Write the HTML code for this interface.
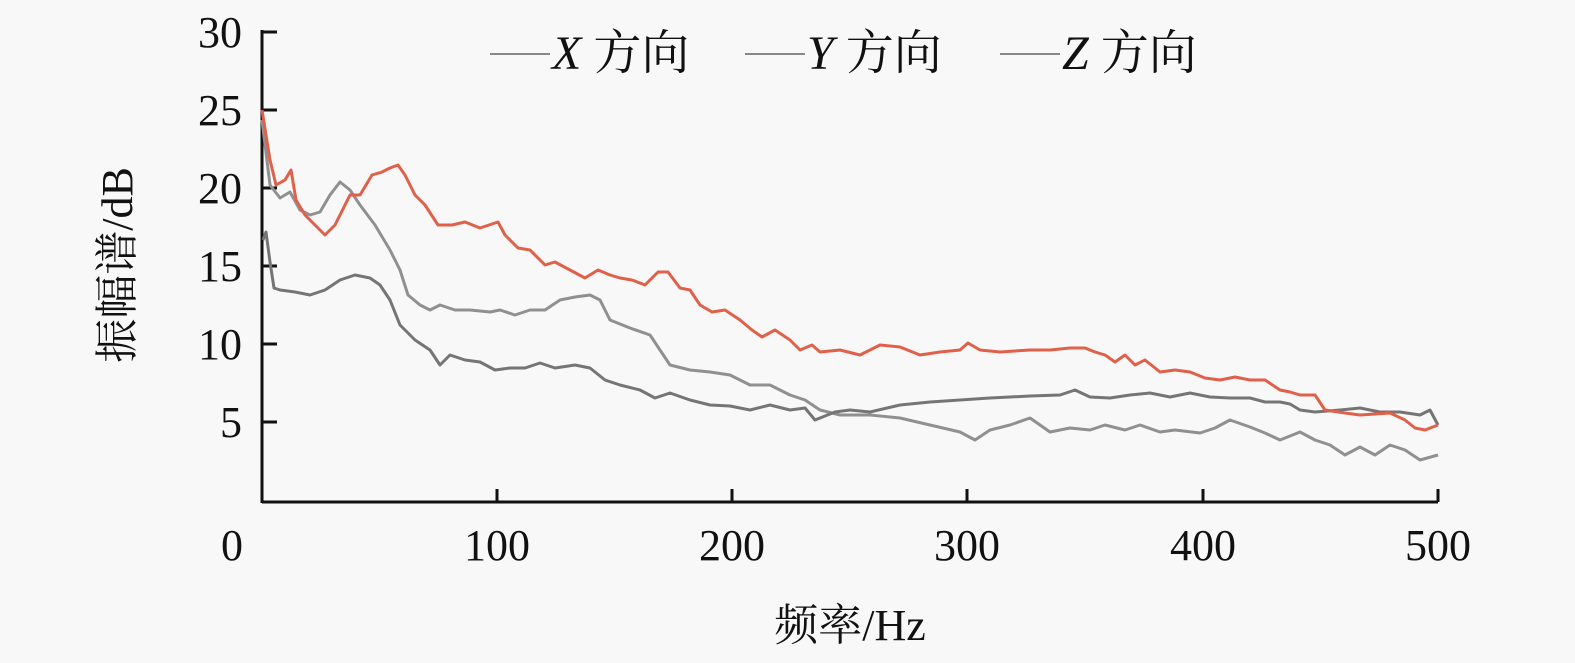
<!DOCTYPE html>
<html><head><meta charset="utf-8"><style>
html,body{margin:0;padding:0;background:#f8f8f8;}
svg{display:block;}
text{font-family:"Liberation Serif","Noto Serif CJK SC",serif;fill:#111;}
</style></head><body>
<svg width="1575" height="663" viewBox="0 0 1575 663">
<rect width="1575" height="663" fill="#f8f8f8"/>
<g stroke="#111" stroke-width="3" fill="none">
<line x1="262" y1="30" x2="262" y2="503"/>
<line x1="262" y1="502" x2="1438" y2="502"/>
<line x1="262" y1="32" x2="277" y2="32"/><line x1="262" y1="110" x2="277" y2="110"/>
<line x1="262" y1="188" x2="277" y2="188"/><line x1="262" y1="266" x2="277" y2="266"/>
<line x1="262" y1="344" x2="277" y2="344"/><line x1="262" y1="422" x2="277" y2="422"/>
<line x1="497" y1="489" x2="497" y2="502"/><line x1="732" y1="489" x2="732" y2="502"/>
<line x1="967" y1="489" x2="967" y2="502"/><line x1="1203" y1="489" x2="1203" y2="502"/>
<line x1="1438" y1="489" x2="1438" y2="502"/>
</g>
<g font-size="44" text-anchor="end">
<text x="242" y="47">30</text><text x="242" y="125">25</text><text x="242" y="203">20</text>
<text x="242" y="281">15</text><text x="242" y="359">10</text><text x="242" y="437">5</text>
</g>
<g font-size="44" text-anchor="middle">
<text x="232" y="560">0</text><text x="497" y="560">100</text><text x="732" y="560">200</text>
<text x="967" y="560">300</text><text x="1203" y="560">400</text><text x="1438" y="560">500</text>
<text x="850" y="640">频率/Hz</text>
</g>
<text font-size="44" text-anchor="middle" transform="translate(132,265) rotate(-90)">振幅谱/dB</text>
<g font-size="48">
<line x1="490" y1="54" x2="550" y2="54" stroke="#888" stroke-width="2"/>
<text x="552" y="69"><tspan font-style="italic">X</tspan> 方向</text>
<line x1="745" y1="54" x2="805" y2="54" stroke="#888" stroke-width="2"/>
<text x="807" y="69"><tspan font-style="italic">Y</tspan> 方向</text>
<line x1="1000" y1="54" x2="1060" y2="54" stroke="#888" stroke-width="2"/>
<text x="1062" y="69"><tspan font-style="italic">Z</tspan> 方向</text>
</g>
<g fill="none" stroke-width="3" stroke-linejoin="round">
<polyline stroke="#909090" points="262,120 270,185 280,198 290,192 300,210 310,215 320,212 330,195 340,182 350,190 360,205 375,225 390,250 400,270 408,295 420,305 430,310 440,305 455,310 470,310 490,312 500,310 515,315 530,310 545,310 560,300 575,297 590,295 600,300 610,320 630,328 650,335 670,365 690,370 710,372 730,375 750,385 770,385 790,395 805,400 820,410 840,415 870,415 900,418 930,425 960,432 975,440 990,430 1010,425 1030,418 1050,432 1070,428 1090,430 1105,425 1125,430 1140,425 1160,432 1175,430 1200,433 1215,428 1230,420 1250,427 1265,433 1280,440 1300,432 1315,440 1330,445 1345,455 1360,447 1375,455 1390,445 1405,450 1420,460 1438,455"/>
<polyline stroke="#757575" points="263,240 266,232 270,262 274,288 280,290 295,292 310,295 325,290 340,280 355,275 370,278 380,285 390,300 400,325 415,340 430,350 440,365 450,355 465,360 480,362 495,370 510,368 525,368 540,363 555,368 575,365 590,368 605,380 620,385 640,390 655,398 670,393 690,400 710,405 730,406 750,410 770,405 790,410 805,408 815,420 835,412 850,410 870,412 900,405 930,402 960,400 990,398 1010,397 1030,396 1060,395 1075,390 1090,397 1110,398 1130,395 1150,393 1170,397 1190,393 1210,397 1230,398 1250,398 1265,402 1280,402 1290,404 1300,410 1315,412 1340,410 1360,408 1380,412 1400,412 1420,415 1430,410 1438,425"/>
<polyline stroke="#e0604a" points="262,110 270,160 276,185 285,180 291,170 296,200 305,215 325,235 335,225 345,205 350,195 360,195 372,175 382,172 390,168 398,165 405,175 415,195 425,205 438,225 452,225 465,222 480,228 498,222 505,235 518,248 530,250 545,265 555,262 570,270 585,278 598,270 610,275 620,278 632,280 645,285 658,272 668,272 680,288 690,290 700,305 712,312 725,310 740,320 752,330 762,337 775,330 790,340 800,350 812,345 820,352 840,350 860,355 880,345 900,347 920,355 940,352 960,350 968,343 980,350 1000,352 1030,350 1050,350 1070,348 1085,348 1095,352 1105,355 1115,362 1125,355 1135,365 1145,360 1160,372 1175,370 1190,372 1205,378 1220,380 1235,377 1250,380 1265,380 1280,390 1290,392 1300,395 1315,395 1325,410 1345,413 1360,415 1375,414 1390,413 1405,420 1415,428 1425,430 1438,425"/>
</g>
</svg>
</body></html>
